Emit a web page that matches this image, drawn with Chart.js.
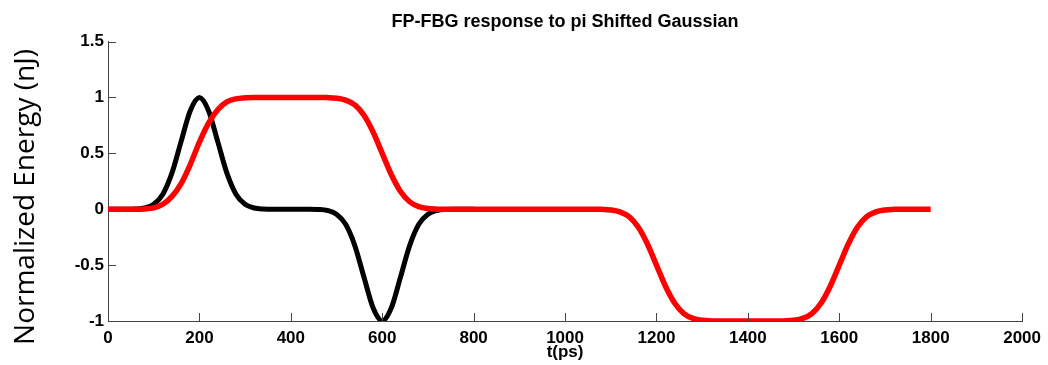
<!DOCTYPE html>
<html>
<head>
<meta charset="utf-8">
<title>FP-FBG response</title>
<script src="https://cdn.jsdelivr.net/npm/chart.js@4.4.1/dist/chart.umd.min.js"></script>
<style>
  html, body { margin: 0; padding: 0; background: #fff; }
  #wrap { width: 1048px; height: 365px; }
</style>
</head>
<body>
<div id="wrap"><canvas id="myChart" width="1048" height="365"></canvas></div>
<script>
// sample times (ps), 20 ps apart
const timePs = [
  0, 20, 40, 60, 80, 100, 120, 140, 160, 180,
  200, 220, 240, 260, 280, 300, 320, 340, 360, 380,
  400, 420, 440, 460, 480, 500, 520, 540, 560, 580,
  600, 620, 640, 660, 680, 700, 720, 740, 760, 780,
  800, 820, 840, 860, 880, 900, 920, 940, 960, 980,
  1000, 1020, 1040, 1060, 1080, 1100, 1120, 1140, 1160, 1180,
  1200, 1220, 1240, 1260, 1280, 1300, 1320, 1340, 1360, 1380,
  1400, 1420, 1440, 1460, 1480, 1500, 1520, 1540, 1560, 1580,
  1600, 1620, 1640, 1660, 1680, 1700, 1720, 1740, 1760, 1780,
  1800,
];

// input: pi shifted gaussian pair (0 .. 800 ps)
const inputPulse = [
  0, 0, 0, 0.002, 0.011, 0.044, 0.135, 0.325, 0.607, 0.882,
  1, 0.882, 0.607, 0.325, 0.135, 0.044, 0.011, 0.002, 0, 0,
  0, 0, 0, -0.002, -0.011, -0.044, -0.135, -0.325, -0.607, -0.882,
  -1, -0.882, -0.607, -0.325, -0.135, -0.044, -0.011, -0.002, 0, 0,
  0,
];

// FP-FBG output (0 .. 1800 ps)
const fbgResponse = [
  0, 0, 0, 0, 0.003, 0.012, 0.045, 0.115, 0.23, 0.4,
  0.6, 0.77, 0.89, 0.96, 0.988, 0.997, 1, 1, 1, 1,
  1, 1, 1, 1, 0.999, 0.994, 0.977, 0.933, 0.841, 0.691,
  0.5, 0.309, 0.159, 0.067, 0.023, 0.006, 0.001, 0, 0, 0,
  0, 0, 0, 0, 0, 0, 0, 0, 0, 0,
  0, 0, 0, 0, -0.001, -0.006, -0.023, -0.067, -0.159, -0.309,
  -0.5, -0.691, -0.841, -0.933, -0.977, -0.994, -0.999, -1, -1, -1,
  -1, -1, -1, -1, -0.999, -0.994, -0.977, -0.933, -0.841, -0.691,
  -0.5, -0.309, -0.159, -0.067, -0.023, -0.006, -0.001, 0, 0, 0,
  0,
];

const xTicks = [0, 200, 400, 600, 800, 1000, 1200, 1400, 1600, 1800, 2000];
const yTicks = [-1, -0.5, 0, 0.5, 1, 1.5];
const yLabel = "Normalized Energy (nJ)";

const toPoints = (vals) => vals.map((v, i) => ({ x: timePs[i], y: v }));

const axisColor = "#444";
const tickFont = { family: "'Liberation Sans', Arial, sans-serif", size: 17, weight: "bold" };

// matlab style tick marks pointing into the plot
const inwardTicks = {
  id: "inwardTicks",
  afterDatasetsDraw(chart) {
    const { ctx, chartArea, scales } = chart;
    const len = 8;
    ctx.save();
    ctx.strokeStyle = axisColor;
    ctx.lineWidth = 1;
    ctx.beginPath();
    scales.x.ticks.forEach((t) => {
      const px = Math.round(scales.x.getPixelForValue(t.value)) + 0.5;
      ctx.moveTo(px, chartArea.bottom);
      ctx.lineTo(px, chartArea.bottom - len);
    });
    scales.y.ticks.forEach((t) => {
      const py = Math.round(scales.y.getPixelForValue(t.value)) + 0.5;
      ctx.moveTo(chartArea.left, py);
      ctx.lineTo(chartArea.left + len, py);
    });
    ctx.stroke();
    ctx.restore();
  },
};

// y label sits a bit lower than the axis middle, so draw it by hand
const yTitle = {
  id: "yTitle",
  afterDraw(chart) {
    const { ctx } = chart;
    ctx.save();
    ctx.translate(26, 197);
    ctx.rotate(-Math.PI / 2);
    ctx.fillStyle = "#000";
    ctx.font = "28px 'Open Sans', sans-serif";
    ctx.textAlign = "center";
    ctx.textBaseline = "middle";
    ctx.fillText(yLabel, 0, 0);
    ctx.restore();
  },
};

const ctx = document.getElementById("myChart");

new Chart(ctx, {
  type: "line",
  data: {
    datasets: [
      {
        label: "FP-FBG output",
        data: toPoints(fbgResponse),
        borderColor: "#ff0000",
        borderWidth: 5.5,
        pointRadius: 0,
        cubicInterpolationMode: "monotone",
      },
      {
        label: "Input",
        data: toPoints(inputPulse),
        borderColor: "#000000",
        borderWidth: 5,
        pointRadius: 0,
        cubicInterpolationMode: "monotone",
      },
    ],
  },
  options: {
    responsive: false,
    devicePixelRatio: 1,
    animation: false,
    layout: { padding: { left: 0, right: 23, top: 0, bottom: 0 } },
    plugins: {
      legend: { display: false },
      tooltip: { enabled: false },
      title: {
        display: true,
        fullSize: false,
        text: "FP-FBG response to pi Shifted Gaussian",
        color: "#000",
        font: { family: "'Liberation Sans', Arial, sans-serif", size: 18, weight: "bold" },
        padding: { top: 11, bottom: 9 },
      },
    },
    scales: {
      x: {
        type: "linear",
        min: 0,
        max: 2000,
        afterBuildTicks: (scale) => {
          scale.ticks = xTicks.map((v) => ({ value: v }));
        },
        afterFit: (scale) => {
          scale.height = 44;
        },
        ticks: {
          color: "#000",
          font: tickFont,
          padding: 7,
          maxRotation: 0,
          callback: (v) => String(v),
        },
        grid: { display: false, drawTicks: false },
        border: { display: true, color: axisColor, width: 1 },
        title: {
          display: true,
          text: "t(ps)",
          color: "#000",
          font: tickFont,
          padding: { top: 0, bottom: 2 },
        },
      },
      y: {
        min: -1,
        max: 1.5,
        afterBuildTicks: (scale) => {
          scale.ticks = yTicks.map((v) => ({ value: v }));
        },
        afterFit: (scale) => {
          scale.width = 108;
        },
        ticks: {
          color: "#000",
          font: tickFont,
          padding: 4,
          callback: (v) => String(v),
        },
        grid: { display: false, drawTicks: false },
        border: { display: true, color: axisColor, width: 1 },
      },
    },
  },
  plugins: [inwardTicks, yTitle],
});
</script>
</body>
</html>
